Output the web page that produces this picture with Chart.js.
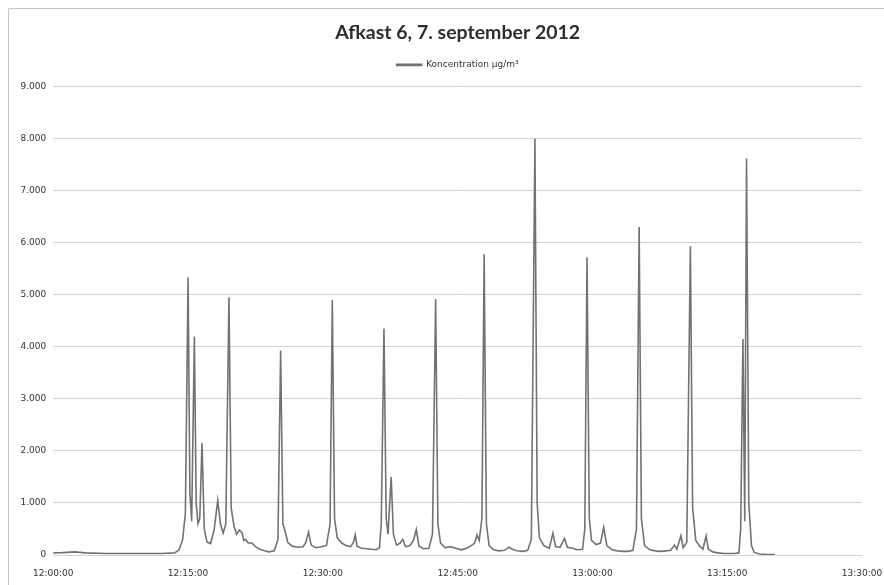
<!DOCTYPE html>
<html>
<head>
<meta charset="utf-8">
<script src="https://cdn.jsdelivr.net/npm/chart.js@4/dist/chart.umd.min.js"></script>
<style>
  html, body { margin: 0; padding: 0; background: #fff; }
  #wrap { position: relative; width: 884px; height: 585px; }
</style>
</head>
<body>
<div id="wrap"><canvas id="c" width="884" height="585"></canvas></div>
<script>
// Measurement time, minutes after 12:00:00
const minutes = [
  0, 1, 2.4, 3.5, 6, 9, 12, 13.5, 14.0, 14.4, 14.7, 15.0, 15.2, 15.4, 15.7, 15.9,
  16.1, 16.3, 16.55, 16.8, 17.1, 17.5, 17.9, 18.3, 18.6, 18.9, 19.2, 19.55, 19.8, 20.1,
  20.4, 20.7, 21.0, 21.2, 21.4, 21.7, 22.1, 22.5, 23.0, 23.5, 24.0, 24.6, 25.0, 25.3,
  25.55, 25.8, 26.1, 26.6, 27.2, 27.8, 28.1, 28.4, 28.7, 29.2, 29.8, 30.4, 30.8, 31.05,
  31.3, 31.6, 32.1, 32.6, 33.1, 33.4, 33.6, 33.8, 34.3, 34.9, 35.4, 35.9, 36.3, 36.5,
  36.8, 37.05, 37.25, 37.6, 37.85, 38.2, 38.6, 38.9, 39.2, 39.7, 40.1, 40.4, 40.7, 41.2,
  41.8, 42.2, 42.55, 42.8, 43.1, 43.6, 44.2, 44.8, 45.4, 46.0, 46.5, 46.9, 47.15, 47.4,
  47.7, 47.95, 48.2, 48.5, 49.0, 49.6, 50.2, 50.7, 51.1, 51.6, 52.2, 52.8, 53.2, 53.6,
  53.85, 54.1, 54.6, 55.2, 55.6, 55.9, 56.4, 56.9, 57.2, 57.8, 58.3, 58.9, 59.15, 59.4,
  59.65, 59.9, 60.4, 60.9, 61.25, 61.6, 62.2, 62.8, 63.4, 64.0, 64.5, 64.9, 65.2, 65.45,
  65.8, 66.4, 67.0, 67.6, 68.2, 68.7, 69.15, 69.4, 69.85, 70.1, 70.5, 70.9, 71.15, 71.5,
  71.9, 72.3, 72.65, 72.9, 73.4, 74.0, 74.6, 75.2, 75.8, 76.3, 76.5, 76.75, 76.95, 77.15,
  77.4, 77.7, 78.0, 78.6, 79.4, 80.3
];

// Koncentration, µg/m³
const concentration = [
  40, 45, 60, 40, 30, 30, 30, 40, 100, 300, 800, 5330, 1200, 650, 4200, 1000,
  600, 700, 2150, 500, 250, 220, 480, 1050, 600, 420, 600, 4950, 900, 560,
  400, 480, 430, 280, 300, 230, 230, 160, 110, 80, 60, 80, 300, 3930,
  600, 450, 240, 170, 150, 160, 240, 440, 190, 140, 160, 180, 600, 4900,
  700, 330, 230, 180, 160, 240, 390, 170, 130, 120, 110, 100, 140, 600,
  4350, 700, 400, 1500, 400, 190, 230, 300, 160, 180, 290, 490, 170, 120,
  130, 400, 4920, 600, 230, 140, 160, 130, 100, 130, 180, 230, 390, 280,
  700, 5780, 600, 180, 100, 80, 90, 150, 110, 80, 70, 90, 300, 8000,
  1000, 330, 180, 130, 420, 160, 150, 320, 150, 130, 100, 110, 500, 5720,
  700, 280, 200, 230, 530, 180, 100, 80, 70, 70, 90, 500, 6300, 700,
  180, 100, 80, 70, 80, 90, 190, 110, 370, 140, 240, 5930, 900, 280,
  180, 110, 370, 110, 60, 40, 30, 30, 30, 40, 500, 4150, 650, 7620,
  1000, 180, 50, 20, 10, 10
];

const yTickMax = 9000;
const yTickStep = 1000;
const xTickStep = 15;   // minutes between time labels
const xMax = 90;        // 13:30:00

const chartTitle = 'Afkast 6, 7. september 2012';
const seriesLabel = 'Koncentration µg/m³';

function fmtThousands(v) {
  return String(Math.round(v)).replace(/\B(?=(\d{3})+(?!\d))/g, '.');
}
function fmtClock(m) {
  const total = Math.round(12 * 3600 + m * 60);
  const hh = Math.floor(total / 3600);
  const mm = Math.floor((total % 3600) / 60);
  const ss = total % 60;
  const p = n => String(n).padStart(2, '0');
  return p(hh) + ':' + p(mm) + ':' + p(ss);
}

// white page with the thin frame of the chart sheet
const framePlugin = {
  id: 'frame',
  beforeDraw(chart) {
    const ctx = chart.ctx;
    ctx.save();
    ctx.fillStyle = '#ffffff';
    ctx.fillRect(0, 0, chart.width, chart.height);
    ctx.strokeStyle = '#c4c4c4';
    ctx.lineWidth = 1;
    ctx.beginPath();
    ctx.moveTo(8.5, chart.height);
    ctx.lineTo(8.5, 8.5);
    ctx.lineTo(chart.width, 8.5);
    ctx.stroke();
    ctx.restore();
  }
};

const points = minutes.map((m, i) => ({ x: m, y: concentration[i] }));

new Chart(document.getElementById('c'), {
  type: 'line',
  data: {
    datasets: [{
      label: seriesLabel,
      data: points,
      borderColor: '#727272',
      backgroundColor: '#727272',
      borderWidth: 1.6,
      pointRadius: 0,
      tension: 0,
      fill: false
    }]
  },
  options: {
    responsive: false,
    animation: false,
    events: [],
    layout: { padding: { top: 10, left: 0, right: 22, bottom: 0 } },
    plugins: {
      title: {
        display: true,
        fullSize: false,
        text: chartTitle,
        color: '#2e2e2e',
        font: { family: 'Lato', size: 19.5, weight: 'bold', lineHeight: 1.2 },
        padding: { top: 11, bottom: 6 }
      },
      legend: {
        display: true,
        fullSize: false,
        labels: {
          boxWidth: 25,
          boxHeight: 1,
          padding: 10,
          color: '#333',
          font: { family: 'DejaVu Sans', size: 9 }
        }
      },
      subtitle: {
        display: true,
        fullSize: false,
        text: '',
        weight: 500,
        font: { size: 6, lineHeight: 1.2 },
        padding: 0
      },
      tooltip: { enabled: false }
    },
    scales: {
      x: {
        type: 'linear',
        min: 0,
        max: xMax,
        afterFit(scale) {
          scale.height = 30;
          scale.paddingLeft = 0;
          scale.paddingRight = 0;
        },
        grid: { display: false, drawTicks: false },
        border: { display: false },
        ticks: {
          stepSize: xTickStep,
          padding: 13,
          maxRotation: 0,
          color: '#333',
          font: { family: 'DejaVu Sans', size: 9 },
          callback: v => fmtClock(v)
        }
      },
      y: {
        min: 0,
        max: yTickMax,
        afterFit(scale) { scale.width = 53.3; },
        grid: { color: '#d2d2d2', lineWidth: 1, drawTicks: false },
        border: { display: false },
        ticks: {
          stepSize: yTickStep,
          padding: 7,
          color: '#333',
          font: { family: 'DejaVu Sans', size: 9 },
          callback: v => fmtThousands(v)
        }
      }
    }
  },
  plugins: [framePlugin]
});
</script>
</body>
</html>
